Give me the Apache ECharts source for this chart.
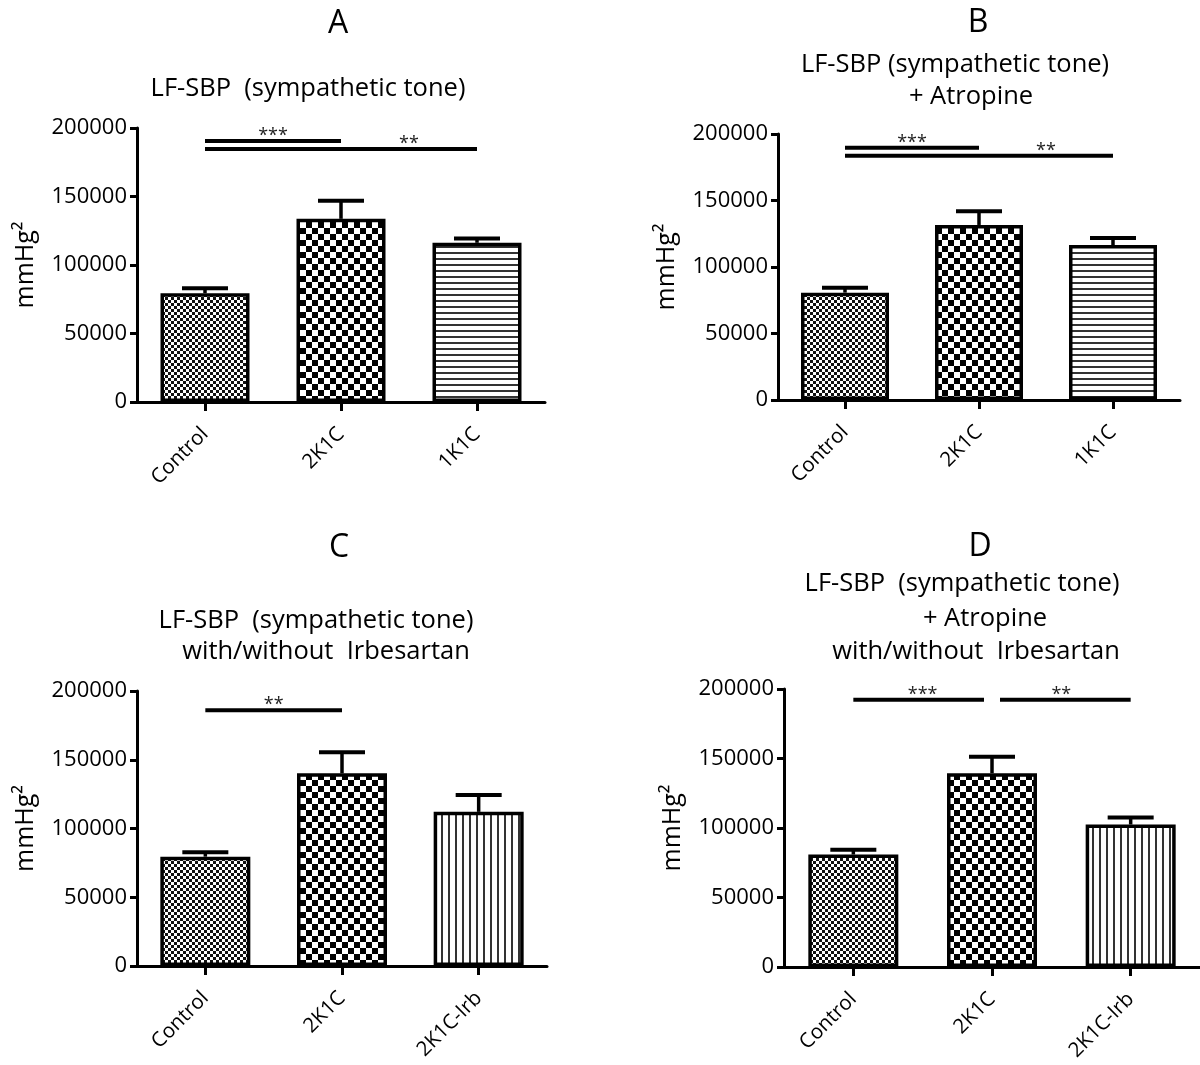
<!DOCTYPE html>
<html>
<head>
<meta charset="utf-8">
<script src="https://cdn.jsdelivr.net/npm/echarts@6/dist/echarts.min.js"></script>
<style>
html,body{margin:0;padding:0;background:#fff;}
#chart{width:1200px;height:1065px;}
</style>
</head>
<body>
<div id="chart"></div>
<script>
// ---------- DATA ----------
const categoriesAB = ['Control', '2K1C', '1K1C'];
const categoriesCD = ['Control', '2K1C', '2K1C-Irb'];
const yTicks = [0, 50000, 100000, 150000, 200000];

const meanA = [79400, 133700, 116200];
const errTopA = [83100, 146900, 119300];
const meanB = [80700, 131600, 116500];
const errTopB = [84400, 141900, 121800];
const meanC = [79500, 140100, 112100];
const errTopC = [82800, 155400, 124300];
const meanD = [80900, 139400, 102500];
const errTopD = [84400, 151300, 107500];

// significance: [fromCategory, toCategory, level, stars, starCategoryPos]
const sigA = [[0, 1, 190500, '***', 0.5], [0, 2, 184600, '**', 1.5]];
const sigB = [[0, 1, 189700, '***', 0.5], [0, 2, 183700, '**', 1.5]];
const sigC = [[0, 1, 186000, '**', 0.5]];
const sigD = [[0, 1, 192200, '***', 0.5], [1, 2, 192200, '**', 1.5]];

const panelTitles = ['A', 'B', 'C', 'D'];
const subtitleA = ['LF-SBP  (sympathetic tone)'];
const subtitleB = ['LF-SBP (sympathetic tone)', '+ Atropine'];
const subtitleC = ['LF-SBP  (sympathetic tone)', 'with/without  Irbesartan'];
const subtitleD = ['LF-SBP  (sympathetic tone)', '+ Atropine', 'with/without  Irbesartan'];
const yName = 'mmHg\u00B2';

// ---------- PATTERNS ----------
function makeCanvas(w, h, draw) {
  const c = document.createElement('canvas');
  c.width = w; c.height = h;
  const ctx = c.getContext('2d');
  ctx.fillStyle = '#fff'; ctx.fillRect(0, 0, w, h);
  draw(ctx);
  return c;
}
const patFineCheck = makeCanvas(6, 6, ctx => {
  ctx.fillStyle = '#111';
  ctx.fillRect(0, 0, 3, 3); ctx.fillRect(3, 3, 3, 3);
});
const patCoarseCheck = makeCanvas(12, 12, ctx => {
  ctx.fillStyle = '#000';
  ctx.fillRect(0, 0, 6, 6); ctx.fillRect(6, 6, 6, 6);
});
const patHLines = makeCanvas(6, 6, ctx => {
  ctx.fillStyle = '#333'; ctx.fillRect(0, 0, 6, 2);
});
const patVLines = makeCanvas(7, 7, ctx => {
  ctx.fillStyle = '#333'; ctx.fillRect(0, 0, 2, 7);
});
const patternsAB = [patFineCheck, patCoarseCheck, patHLines];
const patternsCD = [patFineCheck, patCoarseCheck, patVLines];

// ---------- LAYOUT ----------
const FONT = '"Open Sans", "Noto Sans", sans-serif';
const panels = [
  { grid: { left: 137, top: 128, width: 408, height: 274 }, cats: categoriesAB, mean: meanA, err: errTopA, sig: sigA, pats: patternsAB, barW: 89, shrink: 0 },
  { grid: { left: 778, top: 134, width: 402, height: 266 }, cats: categoriesAB, mean: meanB, err: errTopB, sig: sigB, pats: patternsAB, barW: 88, shrink: 0 },
  { grid: { left: 137, top: 691, width: 410, height: 275 }, cats: categoriesCD, mean: meanC, err: errTopC, sig: sigC, pats: patternsCD, barW: 90, shrink: 0 },
  { grid: { left: 784, top: 689, width: 418, height: 278 }, cats: categoriesCD, mean: meanD, err: errTopD, sig: sigD, pats: patternsCD, barW: 90, shrink: 8 }
];
const textLayout = [
  { title: [338, 24], subs: [[308, 89]], lines: subtitleA },
  { title: [978, 23], subs: [[955, 65], [971, 97]], lines: subtitleB },
  { title: [339, 548], subs: [[316, 621], [326, 652]], lines: subtitleC },
  { title: [980, 547], subs: [[962, 584], [985, 619], [976, 652]], lines: subtitleD }
];

const grids = [], xAxes = [], yAxes = [], series = [], graphics = [];

panels.forEach((p, k) => {
  grids.push(Object.assign({ containLabel: false }, p.grid));
  xAxes.push({
    type: 'category', gridIndex: k, data: p.cats,
    axisLine: { show: true, lineStyle: { color: '#000', width: 3 } },
    axisTick: { show: true, alignWithLabel: true, length: 9, lineStyle: { color: '#000', width: 3 } },
    axisLabel: { rotate: 45, fontSize: 20.5, color: '#000', fontFamily: FONT, margin: 29 }
  });
  yAxes.push({
    type: 'value', gridIndex: k, min: yTicks[0], max: yTicks[yTicks.length - 1], interval: yTicks[1] - yTicks[0],
    name: yName, nameLocation: 'middle', nameGap: 99,
    nameTextStyle: { fontSize: 25, color: '#000', fontFamily: FONT },
    axisLine: { show: true, lineStyle: { color: '#000', width: 3 } },
    axisTick: { show: true, length: 7, lineStyle: { color: '#000', width: 3 } },
    axisLabel: { fontSize: 22, color: '#000', fontFamily: FONT, margin: 10, formatter: v => String(v) },
    splitLine: { show: false }
  });
  series.push({
    type: 'bar', xAxisIndex: k, yAxisIndex: k, barWidth: p.barW,
    data: p.mean.map((v, i) => ({
      value: v,
      itemStyle: { color: { image: p.pats[i], repeat: 'repeat' }, borderColor: '#000', borderWidth: 3.5 }
    })),
    z: 2
  });
  const errData = p.mean.map((v, i) => [i, v, p.err[i]]);
  series.push({
    type: 'custom', xAxisIndex: k, yAxisIndex: k, z: 3,
    data: errData,
    encode: { x: 0, y: [1, 2] },
    renderItem: function (params, api) {
      const base = api.coord([api.value(0), api.value(1)]);
      const top = api.coord([api.value(0), api.value(2)]);
      const half = 23;
      return {
        type: 'group', children: [
          { type: 'line', shape: { x1: base[0], y1: base[1], x2: top[0], y2: top[1] }, style: { stroke: '#000', lineWidth: 3.5 } },
          { type: 'line', shape: { x1: top[0] - half, y1: top[1], x2: top[0] + half, y2: top[1] }, style: { stroke: '#000', lineWidth: 4 } }
        ]
      };
    }
  });
  const sig = p.sig;
  series.push({
    type: 'custom', xAxisIndex: k, yAxisIndex: k, z: 4,
    data: sig.map(s => [s[0], s[1], s[2]]),
    encode: { x: [0, 1], y: 2 },
    renderItem: function (params, api) {
      const s = sig[params.dataIndex];
      const a = api.coord([s[0], s[2]]);
      const b = api.coord([s[1], s[2]]);
      const c0 = api.coord([0, s[2]]);
      const c1 = api.coord([1, s[2]]);
      const step = c1[0] - c0[0];
      let x1 = a[0], x2 = b[0];
      sig.forEach((o, j) => {
        if (j === params.dataIndex || o[2] !== s[2]) return;
        if (o[0] === s[1]) x2 -= p.shrink;
        if (o[1] === s[0]) x1 += p.shrink;
      });
      const sx = c0[0] + s[4] * step;
      return {
        type: 'group', children: [
          { type: 'line', shape: { x1: x1, y1: a[1], x2: x2, y2: a[1] }, style: { stroke: '#000', lineWidth: 4 } },
          { type: 'text', x: sx, y: a[1] - 5, style: { text: s[3], fill: '#222', fontSize: 18, fontFamily: FONT, align: 'center', verticalAlign: 'middle' } }
        ]
      };
    }
  });
  const t = textLayout[k];
  graphics.push({ type: 'text', x: t.title[0], y: t.title[1], style: { text: panelTitles[k], fill: '#000', fontSize: 32, fontFamily: FONT, align: 'center', verticalAlign: 'middle', textAlign: 'center', textVerticalAlign: 'middle' } });
  t.lines.forEach((ln, j) => {
    graphics.push({ type: 'text', x: t.subs[j][0], y: t.subs[j][1], style: { text: ln, fill: '#000', fontSize: 25.5, fontFamily: FONT, align: 'center', verticalAlign: 'middle', textAlign: 'center', textVerticalAlign: 'middle' } });
  });
});

const chart = echarts.init(document.getElementById('chart'), null, { renderer: 'canvas' });
chart.setOption({
  backgroundColor: '#fff',
  animation: false,
  grid: grids, xAxis: xAxes, yAxis: yAxes, series: series,
  graphic: graphics
});
</script>
</body>
</html>
